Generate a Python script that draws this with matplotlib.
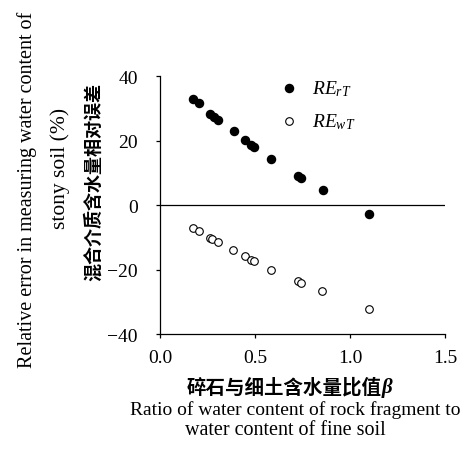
import numpy as np
import matplotlib
matplotlib.use("Agg")
import matplotlib.pyplot as plt

# ratio of rock-fragment to fine-soil water content (beta)
beta_r = [0.176, 0.204, 0.264, 0.282, 0.306, 0.387, 0.445, 0.479, 0.495,
          0.585, 0.727, 0.743, 0.856, 1.102]
re_rT = [32.8, 31.5, 28.3, 27.4, 26.3, 22.8, 20.1, 18.5, 17.9,
         14.4, 9.0, 8.4, 4.6, -2.9]

beta_w = [0.176, 0.204, 0.264, 0.275, 0.305, 0.384, 0.445, 0.479, 0.495,
          0.585, 0.724, 0.743, 0.854, 1.100]
re_wT = [-7.1, -8.0, -10.3, -10.5, -11.6, -14.1, -15.9, -17.0, -17.5,
         -20.0, -23.6, -24.2, -26.8, -32.2]

xticks = [0.0, 0.5, 1.0, 1.5]
yticks = [-40, -20, 0, 20, 40]

serif = "Liberation Serif"
cjk = ["Noto Sans CJK SC", "DejaVu Sans"]
plt.rcParams["font.family"] = serif
plt.rcParams["mathtext.fontset"] = "custom"
plt.rcParams["mathtext.it"] = "Liberation Serif:italic"
plt.rcParams["mathtext.rm"] = "Liberation Serif"

fig = plt.figure(figsize=(4.7, 4.6), dpi=100)
ax = fig.add_axes([0.3404, 0.2717, 0.6064, 0.5609])

ax.scatter(beta_r, re_rT, s=34, color="black", label=r"$RE_{rT}$", zorder=3)
ax.scatter(beta_w, re_wT, s=30, facecolor="white", edgecolor="black",
           linewidth=0.8, label=r"$RE_{wT}$", zorder=3)
ax.axhline(0, color="black", linewidth=0.9)

ax.set_xlim(0, 1.5)
ax.set_ylim(-40, 40)
ax.set_xticks(xticks)
ax.set_xticklabels(["0.0", "0.5", "1.0", "1.5"])
ax.set_yticks(yticks)
ax.set_yticklabels(["\u221240", "\u221220", "0", "20", "40"])
ax.tick_params(direction="out", length=3, width=0.9, labelsize=14, pad=8)
ax.tick_params(axis="y", pad=13)
for s in ["top", "right"]:
    ax.spines[s].set_visible(False)
for s in ["left", "bottom"]:
    ax.spines[s].set_linewidth(0.9)

ax.legend(loc="upper left", bbox_to_anchor=(0.352, 1.03), frameon=False,
          fontsize=14, handletextpad=0.15, labelspacing=0.7,
          markerscale=1.0, borderpad=0)

# axis titles (Chinese and English)
fig.text(382 / 470, 1 - 388 / 460, "碎石与细土含水量比值", family=cjk,
         fontsize=14, fontweight="bold", ha="right", va="center")
fig.text(382 / 470, 1 - 388 / 460, "\u03b2", family=serif, style="italic",
         fontsize=15, fontweight="bold", ha="left", va="center")
fig.text(295 / 470, 1 - 410 / 460, "Ratio of water content of rock fragment to",
         fontsize=14, ha="center", va="center")
fig.text(285 / 470, 1 - 431 / 460, "water content of fine soil",
         fontsize=14.5, ha="center", va="center")

fig.text(94 / 470, 1 - 182 / 460, "混合介质含水量相对误差", family=cjk,
         fontsize=13, fontweight="bold", rotation=90, ha="center", va="center")
fig.text(27 / 470, 1 - 190 / 460, "Relative error in measuring water content of",
         fontsize=14.5, rotation=90, ha="center", va="center")
fig.text(60 / 470, 1 - 168 / 460, "stony soil (%)",
         fontsize=15.5, rotation=90, ha="center", va="center")

fig.savefig("out.png", dpi=100)
